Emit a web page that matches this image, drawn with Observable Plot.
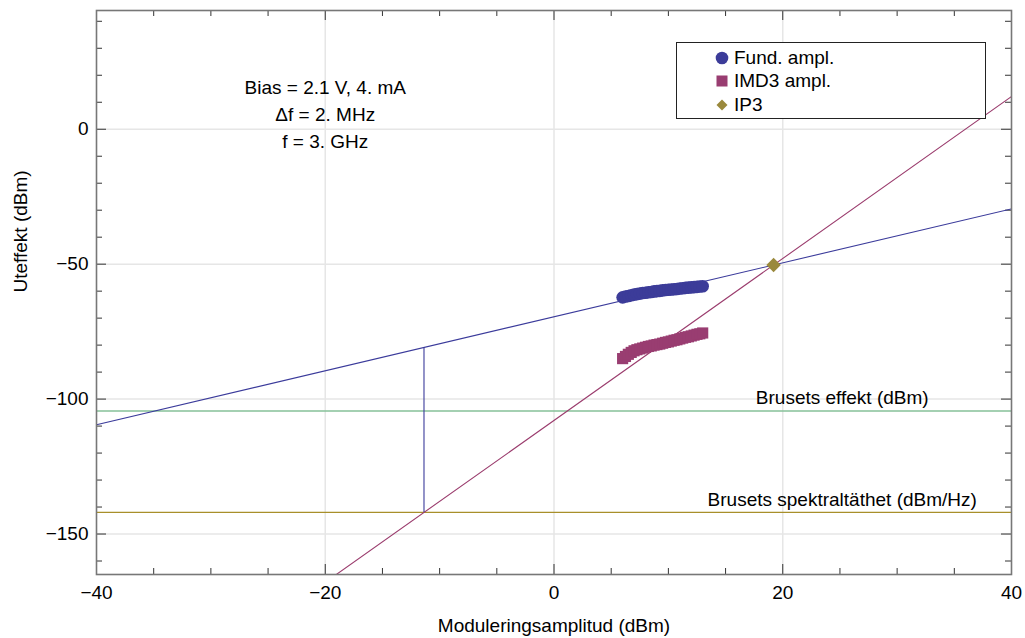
<!DOCTYPE html>
<html><head><meta charset="utf-8">
<script src="https://cdn.jsdelivr.net/npm/d3@7"></script>
<script src="https://cdn.jsdelivr.net/npm/@observablehq/plot@0.6"></script>
<style>
body{margin:0;background:#fff;font-family:"Liberation Sans",Arial,sans-serif;}
#wrap{position:relative;width:1025px;height:638px;}
#legend{position:absolute;left:676px;top:42px;width:308px;height:75px;border:1px solid #222;background:#fff;font-size:19px;color:#000;}
#legend div{position:absolute;left:38px;height:22px;line-height:22px;display:flex;align-items:center;}
#legend svg{margin-right:5px;}
</style></head>
<body><div id="wrap"><div id="chart"></div>
<div id="legend">
<div style="top:4px"><svg width="14" height="14"><circle cx="7" cy="7" r="6.3" fill="#3c3c99"/></svg>Fund. ampl.</div>
<div style="top:27px"><svg width="14" height="14"><rect x="1.5" y="1.5" width="11" height="11" fill="#993d71"/></svg>IMD3 ampl.</div>
<div style="top:51px"><svg width="14" height="14"><path d="M7 1.5 L12.5 7 L7 12.5 L1.5 7 Z" fill="#9a893c"/></svg>IP3</div>
</div></div>
<script>
const fundX = [6,6.25,6.5,6.75,7,7.25,7.5,7.75,8,8.25,8.5,8.75,9,9.25,9.5,9.75,10,10.25,10.5,10.75,11,11.25,11.5,11.75,12,12.25,12.5,12.75,13];
const fundY = [-62.3,-62.0,-61.8,-61.5,-61.3,-61.1,-60.9,-60.7,-60.6,-60.4,-60.3,-60.1,-60.0,-59.9,-59.7,-59.6,-59.5,-59.4,-59.3,-59.2,-59.0,-58.9,-58.8,-58.7,-58.6,-58.5,-58.4,-58.3,-58.2];
const imd3Y = [-85.0,-84.2,-83.4,-82.7,-82.1,-81.7,-81.4,-81.1,-80.8,-80.5,-80.3,-80.0,-79.8,-79.6,-79.3,-79.0,-78.8,-78.5,-78.2,-78.0,-77.7,-77.4,-77.1,-76.9,-76.6,-76.3,-76.0,-75.8,-75.5];
const ip3 = [19.2, -50.3];
const fundFit = {slope: 1, intercept: -69.5};
const imd3Fit = {slope: 3, intercept: -107.9};
const noisePower = -104.4;
const noiseDensity = -142;
const xTicksMajor = [-40,-20,0,20,40];
const yTicksMajor = [-150,-100,-50,0];
const xDomain = [-40, 40];
const yDomain = [-165, 44];
const infoLines = ["Bias = 2.1 V, 4. mA", "\u0394f = 2. MHz", "f = 3. GHz"];
const infoY = [15.2, 5.2, -4.8];
const noiseLabels = ["Brusets effekt (dBm)", "Brusets spektralt\u00e4thet (dBm/Hz)"];

const W = 1025, H = 638, mL = 96, mR = 14, mT = 10, mB = 64;
const pxX = (W - mL - mR) / (xDomain[1] - xDomain[0]);
const pxY = (H - mT - mB) / (yDomain[1] - yDomain[0]);
const majLen = 10, minLen = 6;
const xMinor = d3.range(-40, 40.01, 5).filter(v => !xTicksMajor.includes(v));
const yMinor = d3.range(-160, 44, 10).filter(v => !yTicksMajor.includes(v));

const pts = fundX.map((x, i) => ({x, f: fundY[i], m: imd3Y[i]}));
const lineOf = fit => xDomain.map(x => ({x, y: fit.slope * x + fit.intercept}));
const xCross = (noiseDensity - imd3Fit.intercept) / imd3Fit.slope;
const yCross = fundFit.slope * xCross + fundFit.intercept;
const fmt = d => d < 0 ? "\u2212" + Math.abs(d) : String(d);

const tickCol = "#333";
const marks = [
  Plot.ruleX(xTicksMajor.slice(1, -1), {stroke: "#e6e6e6", strokeWidth: 1.5}),
  Plot.ruleY(yTicksMajor, {stroke: "#e6e6e6", strokeWidth: 1.5}),
  Plot.ruleX(xTicksMajor, {y1: yDomain[0], y2: yDomain[0] + majLen / pxY, stroke: tickCol}),
  Plot.ruleX(xMinor, {y1: yDomain[0], y2: yDomain[0] + minLen / pxY, stroke: tickCol}),
  Plot.ruleX(xTicksMajor, {y1: yDomain[1], y2: yDomain[1] - majLen / pxY, stroke: tickCol}),
  Plot.ruleX(xMinor, {y1: yDomain[1], y2: yDomain[1] - minLen / pxY, stroke: tickCol}),
  Plot.ruleY(yTicksMajor, {x1: xDomain[0], x2: xDomain[0] + majLen / pxX, stroke: tickCol}),
  Plot.ruleY(yMinor, {x1: xDomain[0], x2: xDomain[0] + minLen / pxX, stroke: tickCol}),
  Plot.ruleY(yTicksMajor, {x1: xDomain[1], x2: xDomain[1] - majLen / pxX, stroke: tickCol}),
  Plot.ruleY(yMinor, {x1: xDomain[1], x2: xDomain[1] - minLen / pxX, stroke: tickCol}),
  Plot.ruleY([noisePower], {stroke: "#86c198", strokeWidth: 1.5}),
  Plot.ruleY([noiseDensity], {stroke: "#a88f2a", strokeWidth: 1.2}),
  Plot.line(lineOf(fundFit), {x: "x", y: "y", stroke: "#3b3b9b", strokeWidth: 1.1, clip: true}),
  Plot.line(lineOf(imd3Fit), {x: "x", y: "y", stroke: "#9b3d6e", strokeWidth: 1.1, clip: true}),
  Plot.ruleX([xCross], {y1: noiseDensity, y2: yCross, stroke: "#3b3b9b", strokeWidth: 1.1}),
  Plot.dot(pts, {x: "x", y: "f", r: 6.3, fill: "#3c3c99", stroke: "none"}),
  Plot.dot(pts, {x: "x", y: "m", r: 6.3, symbol: "square", fill: "#993d71", stroke: "none"}),
  Plot.dot([ip3], {x: d => d[0], y: d => d[1], r: 6.5, symbol: "diamond2", fill: "#9a893c", stroke: "none"}),
  Plot.text(infoLines, {x: -20, y: (d, i) => infoY[i], text: d => d, fontSize: 19, fill: "#000"}),
  Plot.text(noiseLabels, {x: 25.2, y: (d, i) => [noisePower, noiseDensity][i], dy: -13, text: d => d, fontSize: 19, fill: "#000"}),
  Plot.axisX(xTicksMajor, {tickSize: 0, tickPadding: 11, fontSize: 19, tickFormat: fmt, label: null}),
  Plot.axisY(yTicksMajor, {tickSize: 0, tickPadding: 8, fontSize: 19, tickFormat: fmt, label: null}),
  Plot.text(["Moduleringsamplitud (dBm)"], {frameAnchor: "bottom", dy: 57, text: d => d, fontSize: 19, fill: "#000"}),
  Plot.text(["Uteffekt (dBm)"], {frameAnchor: "left", dx: -76, rotate: -90, text: d => d, fontSize: 19, fill: "#000"}),
  Plot.frame({stroke: "#777", strokeWidth: 1.6})
];

const chart = Plot.plot({
  width: W, height: H,
  marginLeft: mL, marginRight: mR, marginTop: mT, marginBottom: mB,
  style: {fontFamily: "'Liberation Sans', Arial, sans-serif", background: "#fff", color: "#000"},
  x: {domain: xDomain, label: null},
  y: {domain: yDomain, label: null},
  marks
});
document.getElementById("chart").appendChild(chart);
</script>
</body></html>
